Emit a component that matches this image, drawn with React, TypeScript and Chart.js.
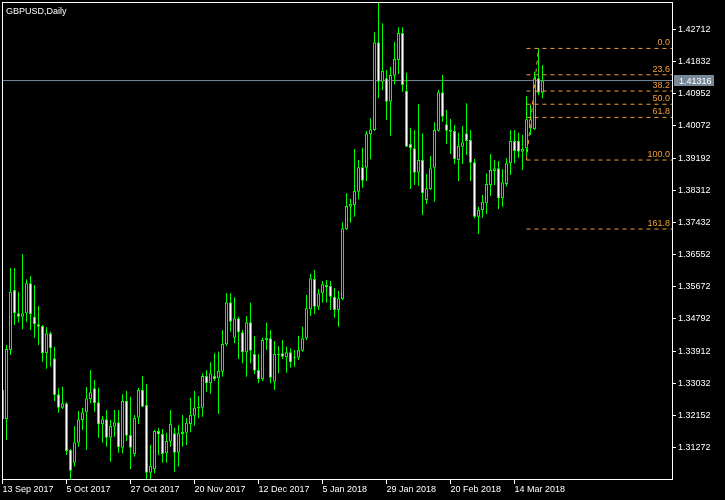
import React, { useEffect, useRef } from 'react';
import { Chart, registerables } from 'chart.js';

Chart.register(...registerables);

const SYMBOL = 'GBPUSD,Daily';
const DATE_LABELS = ['13 Sep 2017', '5 Oct 2017', '27 Oct 2017', '20 Nov 2017', '12 Dec 2017', '5 Jan 2018', '29 Jan 2018', '20 Feb 2018', '14 Mar 2018'];
const DATE_TICK_INDEX = [0, 16, 32, 48, 64, 80, 96, 112, 128];
const PRICE_TICKS = [1.42712, 1.41832, 1.40952, 1.40072, 1.39192, 1.38312, 1.37432, 1.36552, 1.35672, 1.34792, 1.33912, 1.33032, 1.32152, 1.31272];

const OPEN = [
  1.32846, 1.32052, 1.33941, 1.35583, 1.34945, 1.34852, 1.34945, 1.35766, 1.34852, 1.34644,
  1.34598, 1.33850, 1.34398, 1.33713, 1.32728, 1.32361, 1.32482, 1.31203, 1.30856, 1.31403,
  1.32025, 1.32235, 1.32599, 1.32892, 1.32509, 1.31907, 1.32044, 1.31540, 1.31841, 1.31962,
  1.31266, 1.32545, 1.31614, 1.31086, 1.32088, 1.32846, 1.32435, 1.30582, 1.30683, 1.31724,
  1.31641, 1.31113, 1.31431, 1.31661, 1.31130, 1.31696, 1.31677, 1.31915, 1.32142, 1.32345,
  1.32361, 1.33229, 1.33029, 1.33229, 1.33166, 1.33347, 1.34097, 1.35246, 1.34277, 1.34808,
  1.34425, 1.33878, 1.34699, 1.33831, 1.33393, 1.33147, 1.34214, 1.34261, 1.33073, 1.33831,
  1.33850, 1.33741, 1.33878, 1.33757, 1.33730, 1.33921, 1.34261, 1.35055, 1.35884, 1.35126,
  1.35493, 1.35720, 1.35692, 1.35400, 1.35036, 1.35337, 1.37244, 1.37863, 1.37909, 1.38274,
  1.38941, 1.38930, 1.39845, 1.39962, 1.42363, 1.41284, 1.41378, 1.40737, 1.41449, 1.41878,
  1.42617, 1.41030, 1.39579, 1.39462, 1.38794, 1.39141, 1.38046, 1.38347, 1.38930, 1.39943,
  1.40994, 1.40118, 1.39962, 1.39935, 1.39141, 1.39505, 1.39872, 1.39689, 1.39078, 1.37589,
  1.37773, 1.37956, 1.38457, 1.38840, 1.38914, 1.38093, 1.38484, 1.39051, 1.39661, 1.39661,
  1.39368, 1.39462, 1.40009, 1.39982, 1.41378, 1.40983,
];
const HIGH = [
  1.32983, 1.34078, 1.36185, 1.36185, 1.35536, 1.36568, 1.35876, 1.35966, 1.35720, 1.35145,
  1.34625, 1.34562, 1.34442, 1.34031, 1.32892, 1.32936, 1.32509, 1.31231, 1.31860, 1.32271,
  1.32361, 1.32928, 1.33393, 1.33119, 1.32909, 1.32134, 1.32298, 1.32025, 1.32298, 1.32298,
  1.32728, 1.32818, 1.32662, 1.32161, 1.32909, 1.33229, 1.33010, 1.31340, 1.31751, 1.31806,
  1.31778, 1.31677, 1.32298, 1.31814, 1.31888, 1.32161, 1.32071, 1.32635, 1.32818, 1.32682,
  1.33303, 1.33393, 1.33604, 1.33850, 1.33894, 1.34488, 1.35501, 1.35493, 1.35383, 1.34852,
  1.34488, 1.34871, 1.35235, 1.34324, 1.33831, 1.34277, 1.34688, 1.34488, 1.34187, 1.34050,
  1.34214, 1.34031, 1.33987, 1.33941, 1.34332, 1.34578, 1.35446, 1.36021, 1.36130, 1.35610,
  1.35829, 1.35857, 1.35829, 1.35630, 1.35556, 1.37436, 1.38230, 1.38074, 1.39442, 1.39141,
  1.39478, 1.39935, 1.40283, 1.42637, 1.43447, 1.42883, 1.41605, 1.41695, 1.42379, 1.42774,
  1.42774, 1.41531, 1.40025, 1.39962, 1.40674, 1.39872, 1.38758, 1.39251, 1.40173, 1.41057,
  1.41468, 1.40510, 1.40263, 1.40099, 1.39888, 1.40072, 1.40693, 1.39962, 1.39169, 1.37863,
  1.38183, 1.38777, 1.39305, 1.39141, 1.39114, 1.38887, 1.39188, 1.39962, 1.39962, 1.39888,
  1.39826, 1.40893, 1.40647, 1.41558, 1.42195, 1.41742,
];
const LOW = [
  1.31997, 1.31477, 1.33804, 1.34625, 1.34688, 1.34507, 1.34715, 1.34488, 1.34277, 1.34078,
  1.33620, 1.33429, 1.33484, 1.32545, 1.32224, 1.32326, 1.31067, 1.30410, 1.30746, 1.31294,
  1.31751, 1.31203, 1.32482, 1.32252, 1.31540, 1.31403, 1.31294, 1.30883, 1.31567, 1.31130,
  1.31113, 1.31450, 1.30683, 1.31020, 1.31915, 1.32372, 1.30410, 1.30410, 1.30566, 1.31067,
  1.30856, 1.30856, 1.31294, 1.30609, 1.30746, 1.31294, 1.31340, 1.31688, 1.31869, 1.32071,
  1.32115, 1.32799, 1.32744, 1.33092, 1.32189, 1.33210, 1.34050, 1.34442, 1.34124, 1.33694,
  1.33577, 1.33210, 1.33577, 1.33284, 1.33029, 1.33092, 1.33941, 1.33029, 1.32846, 1.33303,
  1.33694, 1.33319, 1.33456, 1.33484, 1.33667, 1.33894, 1.34214, 1.34871, 1.34926, 1.35036,
  1.35235, 1.35235, 1.35036, 1.34825, 1.34578, 1.35309, 1.37225, 1.37425, 1.37589, 1.38066,
  1.38383, 1.38566, 1.39160, 1.39935, 1.40830, 1.41057, 1.40236, 1.39806, 1.41213, 1.41495,
  1.41011, 1.39497, 1.38347, 1.38457, 1.38430, 1.37636, 1.37937, 1.38320, 1.38000, 1.39921,
  1.40190, 1.39579, 1.39305, 1.39024, 1.38566, 1.39032, 1.39278, 1.38566, 1.37545, 1.37116,
  1.37562, 1.37663, 1.38156, 1.38457, 1.37800, 1.37863, 1.38410, 1.38731, 1.39051, 1.39204,
  1.38868, 1.39251, 1.39826, 1.39962, 1.40920, 1.40830,
];
const CLOSE = [
  1.32052, 1.33968, 1.35536, 1.34945, 1.34852, 1.34945, 1.35766, 1.34918, 1.34644, 1.34578,
  1.33850, 1.34398, 1.33987, 1.32709, 1.32361, 1.32482, 1.31176, 1.30637, 1.31414, 1.32044,
  1.32235, 1.32619, 1.32783, 1.32482, 1.31907, 1.32044, 1.31540, 1.31860, 1.31962, 1.31277,
  1.32545, 1.31595, 1.31266, 1.32088, 1.32846, 1.32389, 1.30582, 1.30766, 1.31724, 1.31633,
  1.31094, 1.31450, 1.31915, 1.31130, 1.31661, 1.31641, 1.31951, 1.32161, 1.32361, 1.32389,
  1.33229, 1.33029, 1.33303, 1.33147, 1.33366, 1.34105, 1.35246, 1.34715, 1.34808, 1.34425,
  1.33878, 1.34699, 1.33921, 1.33374, 1.33147, 1.34214, 1.34277, 1.33182, 1.33831, 1.33804,
  1.33757, 1.33878, 1.33604, 1.33730, 1.33941, 1.34261, 1.35082, 1.35903, 1.35126, 1.35493,
  1.35739, 1.35657, 1.35400, 1.35036, 1.35356, 1.37272, 1.37882, 1.37937, 1.38293, 1.38941,
  1.38575, 1.39872, 1.39982, 1.42363, 1.41284, 1.41577, 1.40737, 1.41468, 1.41906, 1.42617,
  1.41194, 1.39505, 1.39462, 1.38794, 1.39141, 1.38230, 1.38367, 1.38914, 1.39962, 1.40994,
  1.40326, 1.39943, 1.39916, 1.39160, 1.39524, 1.39626, 1.39661, 1.39067, 1.37589, 1.37773,
  1.38000, 1.38484, 1.38868, 1.38914, 1.38093, 1.38531, 1.39051, 1.39661, 1.39388, 1.39368,
  1.39442, 1.40255, 1.40255, 1.41378, 1.40983, 1.41316,
];

const BID = 1.41316;
const FIB_HIGH = 1.42195;
const FIB_LOW = 1.3914;
const FIB_LEVELS = [0, 23.6, 38.2, 50, 61.8, 100, 161.8];
const FIB_START_INDEX = 131;
const FIB_END_INDEX = 134;

const Y_MAX = 1.43466;
const Y_MIN = 1.304097;
const X_MIN = -0.125;
const X_MAX = 167.375;

const GREEN = '#00ff00';
const BULL_FILL = '#000000';
const BEAR_FILL = '#ffffff';
const FIB_COLOR = '#f0a030';
const BID_COLOR = '#778899';
const FONT_FAMILY = "'Liberation Sans', Arial, sans-serif";
const FONT_SIZE = 9;

const fibPrice = (r: number) => FIB_HIGH - (r / 100) * (FIB_HIGH - FIB_LOW);

const mt4Plugin = {
  id: 'mt4',
  beforeDraw(chart: any) {
    const ctx = chart.ctx;
    ctx.save();
    ctx.fillStyle = '#000000';
    ctx.fillRect(0, 0, chart.width, chart.height);
    ctx.restore();
  },
  afterDraw(chart: any) {
    const { ctx, chartArea: a, scales } = chart;
    ctx.save();
    ctx.strokeStyle = '#ffffff';
    ctx.lineWidth = 1;
    ctx.strokeRect(a.left + 0.5, a.top + 0.5, a.right - a.left, a.bottom - a.top);

    ctx.font = `${FONT_SIZE}px ${FONT_FAMILY}`;
    ctx.textBaseline = 'alphabetic';
    ctx.textAlign = 'left';
    ctx.fillStyle = '#ffffff';
    ctx.fillText(SYMBOL, a.left + 4, a.top + 11.5);

    ctx.fillStyle = FIB_COLOR;
    ctx.textAlign = 'right';
    FIB_LEVELS.forEach((r) => {
      const y = scales.y.getPixelForValue(fibPrice(r));
      ctx.fillText(r.toFixed(1), a.right - 2, Math.round(y) - 3);
    });

    const by = scales.y.getPixelForValue(BID);
    ctx.fillStyle = BID_COLOR;
    ctx.fillRect(a.right + 2, Math.floor(by) - 5, 40, 11);
    ctx.fillStyle = '#ffffff';
    ctx.textAlign = 'left';
    ctx.fillText(BID.toFixed(5), a.right + 7, Math.floor(by) + 3.5);
    ctx.restore();
  },
};

export default function App() {
  const ref = useRef<HTMLCanvasElement>(null);

  useEffect(() => {
    const canvas = ref.current;
    if (!canvas) return;
    const idx = OPEN.map((_, i) => i);
    const wicks = idx.map((i) => ({ x: i, y: [LOW[i], HIGH[i]] }));
    const bodies = idx.map((i) => ({ x: i, y: [OPEN[i], CLOSE[i]] }));
    const bodyFill = idx.map((i) => (CLOSE[i] >= OPEN[i] ? BULL_FILL : BEAR_FILL));

    const fibSets = FIB_LEVELS.map((r) => ({
      type: 'line',
      data: [
        { x: FIB_START_INDEX, y: fibPrice(r) },
        { x: X_MAX, y: fibPrice(r) },
      ],
      borderColor: FIB_COLOR,
      borderWidth: 1,
      borderDash: [4, 4],
      pointRadius: 0,
      fill: false,
      order: 0,
      clip: 0,
    }));

    const chart = new Chart(canvas, {
      type: 'bar',
      data: {
        datasets: [
          {
            type: 'bar',
            data: bodies,
            backgroundColor: bodyFill,
            borderColor: GREEN,
            borderWidth: 1,
            borderSkipped: false,
            barThickness: 3,
            maxBarThickness: 3,
            grouped: false,
            inflateAmount: 0,
            order: 1,
            clip: 0,
          },
          {
            type: 'bar',
            data: wicks,
            backgroundColor: GREEN,
            borderWidth: 0,
            barThickness: 1,
            maxBarThickness: 1,
            grouped: false,
            inflateAmount: 0,
            order: 2,
            clip: 0,
          },
          {
            type: 'line',
            data: [
              { x: X_MIN, y: BID },
              { x: X_MAX, y: BID },
            ],
            borderColor: BID_COLOR,
            borderWidth: 1,
            pointRadius: 0,
            fill: false,
            order: 3,
            clip: 0,
          },
          ...fibSets,
          {
            type: 'line',
            data: [
              { x: FIB_START_INDEX, y: FIB_LOW },
              { x: FIB_END_INDEX, y: FIB_HIGH },
            ],
            borderColor: FIB_COLOR,
            borderWidth: 1,
            borderDash: [4, 4],
            pointRadius: 0,
            fill: false,
            order: 0,
            clip: 0,
          },
        ] as any,
      },
      options: {
        responsive: false,
        maintainAspectRatio: false,
        animation: false,
        devicePixelRatio: 1,
        events: [],
        layout: { padding: { left: 2, top: 2, right: 0, bottom: 0 } },
        plugins: { legend: { display: false }, tooltip: { enabled: false }, title: { display: false } },
        scales: {
          x: {
            type: 'linear',
            position: 'bottom',
            offset: false,
            min: X_MIN,
            max: X_MAX,
            afterBuildTicks: (s: any) => {
              s.ticks = DATE_TICK_INDEX.map((v) => ({ value: v }));
            },
            afterFit: (s: any) => {
              s.height = 21;
              s.paddingLeft = 0;
              s.paddingRight = 0;
            },
            ticks: {
              color: '#ffffff',
              font: { family: FONT_FAMILY, size: FONT_SIZE },
              align: 'start',
              maxRotation: 0,
              minRotation: 0,
              autoSkip: false,
              padding: 0,
              callback: (v: any) => {
                const k = DATE_TICK_INDEX.indexOf(Number(v));
                return k >= 0 ? DATE_LABELS[k] : '';
              },
            },
            grid: { display: true, offset: false, drawOnChartArea: false, drawTicks: true, tickLength: 5, color: '#ffffff', lineWidth: 1 },
            border: { display: false },
          },
          y: {
            type: 'linear',
            position: 'right',
            min: Y_MIN,
            max: Y_MAX,
            afterBuildTicks: (s: any) => {
              s.ticks = PRICE_TICKS.map((v) => ({ value: v }));
            },
            afterFit: (s: any) => {
              s.width = 53;
              s.paddingTop = 0;
              s.paddingBottom = 0;
            },
            ticks: {
              color: '#ffffff',
              font: { family: FONT_FAMILY, size: FONT_SIZE },
              padding: 2,
              autoSkip: false,
              callback: (v: any) => Number(v).toFixed(5),
            },
            grid: { display: true, drawOnChartArea: false, drawTicks: true, tickLength: 4, color: '#ffffff', lineWidth: 1 },
            border: { display: false },
          },
        },
      } as any,
      plugins: [mt4Plugin],
    });

    return () => chart.destroy();
  }, []);

  return (
    <div style={{ position: 'fixed', left: 0, top: 0, width: 725, height: 500, background: '#000' }}>
      <canvas ref={ref} width={725} height={500} style={{ display: 'block', width: 725, height: 500 }} />
    </div>
  );
}
